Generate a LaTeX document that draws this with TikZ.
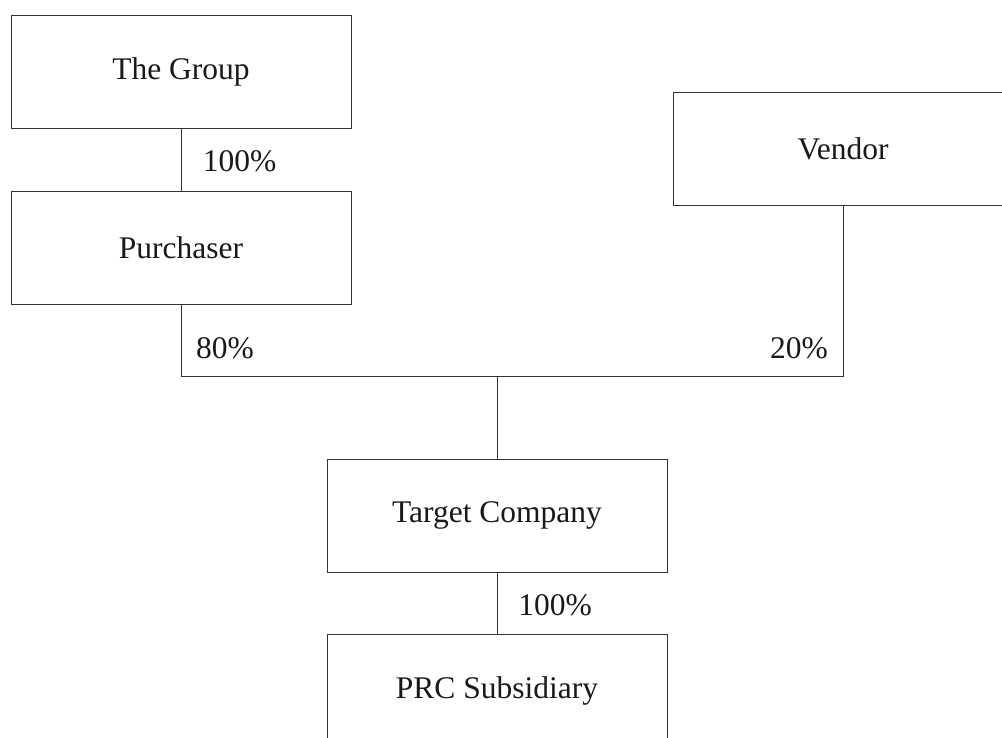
\documentclass[tikz,border=0pt]{standalone}
\usepackage{fontspec}
\setmainfont{Liberation Serif}
\begin{document}
\begin{tikzpicture}[x=1pt,y=-1pt,
  box/.style={draw=black!80,line width=0.9pt,minimum width=340pt,minimum height=113pt,inner sep=0pt,text=black!90,font=\fontsize{31.5}{38}\selectfont},
  pct/.style={text=black!90,font=\fontsize{31.5}{38}\selectfont,inner sep=0pt},
  conn/.style={draw=black!80,line width=0.9pt}]
\useasboundingbox (0,0) rectangle (1002,738);
\clip (0,0) rectangle (1002,738);
\node[box] (group) at (181,71.5) {The Group};
\node[box] (purch) at (181,247.5) {Purchaser};
\node[box] (vendor) at (843,148.5) {Vendor};
\node[box] (target) at (497,515.5) {Target Company};
\node[box] (prc) at (497,690.5) {PRC Subsidiary};
\coordinate (jl) at (181,376);
\coordinate (jm) at (497,376);
\coordinate (jr) at (843,376);
\draw[conn] (group.south) -- (purch.north);
\draw[conn] (purch.south) -- (jl) -- (jr) -- (vendor.south);
\draw[conn] (jm) -- (target.north);
\draw[conn] (target.south) -- (prc.north);
\node[pct] (p1) at (239.5,161) {100\%};
\node[pct] (p2) at (225,348) {80\%};
\node[pct] (p3) at (799,348) {20\%};
\node[pct] (p4) at (555,605) {100\%};
\end{tikzpicture}
\end{document}
